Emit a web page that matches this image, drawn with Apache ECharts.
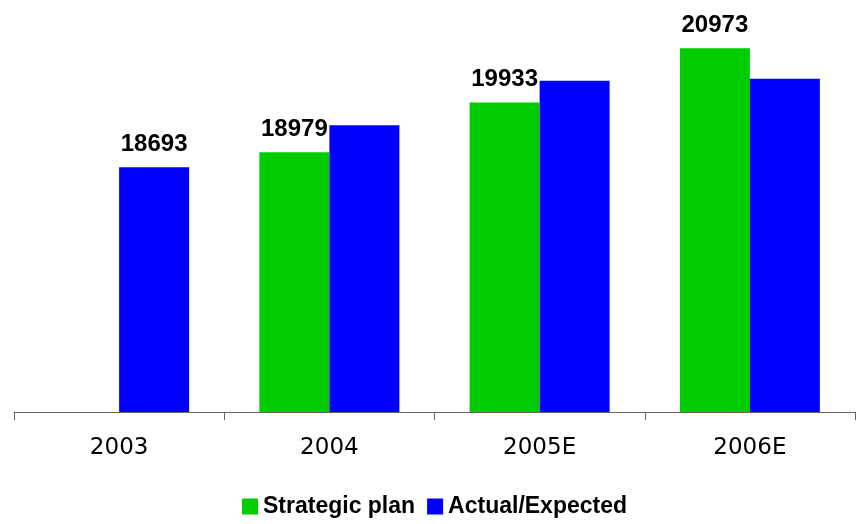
<!DOCTYPE html>
<html>
<head>
<meta charset="utf-8">
<script src="https://cdn.jsdelivr.net/npm/echarts@6/dist/echarts.min.js"></script>
<style>
  html, body { margin: 0; padding: 0; background: #fff; }
  #chart { width: 856px; height: 524px; }
</style>
</head>
<body>
<div id="chart"></div>
<script>
// Yearly figures: plan vs. actual/expected
const categories = ['2003', '2004', '2005E', '2006E'];
const strategicPlan = [null, 18979, 19933, 20973];
const actualExpected = [18693, 19500, 20350, 20390];
const seriesNames = ['Strategic plan', 'Actual/Expected'];

const GREEN = '#00CC00';
const BLUE = '#0000FF';

const labelStyle = {
  show: true,
  position: 'top',
  distance: 11,
  fontFamily: '"Liberation Sans", Arial, sans-serif',
  fontWeight: 'bold',
  fontSize: 24,
  color: '#000'
};

// Value labels sit on the plan bar; where no plan exists, on the actual bar
const actualData = actualExpected.map((v, i) => ({
  value: v,
  label: { show: strategicPlan[i] == null }
}));

const chart = echarts.init(document.getElementById('chart'), null, { renderer: 'canvas' });
chart.setOption({
  animation: false,
  backgroundColor: '#fff',
  grid: { left: 14, right: 1, top: 0, bottom: 112, containLabel: false },
  legend: {
    data: seriesNames,
    left: 237,
    top: 490,
    icon: 'rect',
    itemWidth: 16,
    itemHeight: 16,
    itemGap: 12,
    textStyle: {
      fontFamily: '"Liberation Sans", Arial, sans-serif',
      fontWeight: 'bold',
      fontSize: 23,
      color: '#000'
    }
  },
  xAxis: {
    type: 'category',
    data: categories,
    boundaryGap: true,
    axisLine: { show: true, lineStyle: { color: '#666', width: 1 } },
    axisTick: { show: true, length: 8, lineStyle: { color: '#666' } },
    axisLabel: {
      margin: 25,
      fontFamily: '"DejaVu Sans", Verdana, sans-serif',
      fontSize: 23,
      color: '#000'
    }
  },
  yAxis: {
    type: 'value',
    min: 14000,
    max: 21900,
    show: false,
    splitLine: { show: false }
  },
  series: [
    {
      name: seriesNames[0],
      type: 'bar',
      data: strategicPlan,
      barWidth: 70,
      barGap: '0%',
      itemStyle: { color: GREEN },
      label: labelStyle
    },
    {
      name: seriesNames[1],
      type: 'bar',
      data: actualData,
      barWidth: 70,
      barGap: '0%',
      itemStyle: { color: BLUE },
      label: labelStyle
    }
  ]
});
</script>
</body>
</html>
